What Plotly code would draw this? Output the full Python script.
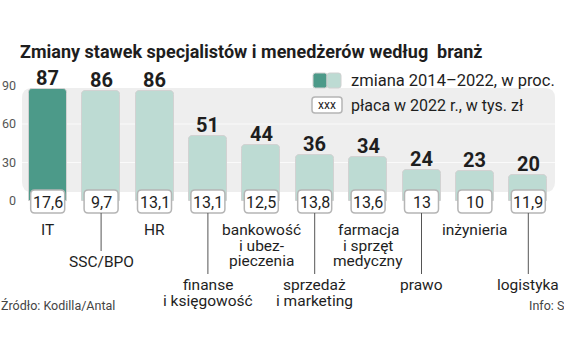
import plotly.graph_objects as go

# ---------------- data ----------------
categories = ["IT", "SSC/BPO", "HR", "finanse\ni księgowość", "bankowość\ni ubez-\npieczenia",
              "sprzedaż\ni marketing", "farmacja\ni sprzęt\nmedyczny", "prawo", "inżynieria", "logistyka"]
change_pct = [87, 86, 86, 51, 44, 36, 34, 24, 23, 20]
salary_k = ["17,6", "9,7", "13,1", "13,1", "12,5", "13,8", "13,6", "13", "10", "11,9"]
highlight = ["IT"]
y_ticks = [0, 30, 60, 90]
title = "Zmiany stawek specjalistów i menedżerów według  branż"
legend_change = "zmiana 2014–2022, w proc."
legend_salary = "płaca w 2022 r., w tys. zł"
source = "Źródło: Kodilla/Antal"
info = "Info: S"

# ---------------- style ----------------
label_row = [0, 1, 0, 2, 0, 2, 0, 2, 0, 2]   # 0 = directly under box, 1/2 = dropped with leader line
DARK = "#4c9a89"
LIGHT = "#bddbd3"
PANEL = "#eeeeee"
TXT = "#1e1e1e"
REG = "Roboto, 'Liberation Sans', sans-serif"
BOLD = "Roboto, 'Liberation Sans', sans-serif"

W, H = 564, 353
L, R, T, B = 21, 9, 60, 23
n = len(categories)
pw = W - L - R
ph = H - T - B
colw = pw / n
Y0, S = 201.0, 38.5 / 30.0


def yd(p):
    return (Y0 - p) / S


def xd(p):
    return (p - L) / colw - 0.5


def xp(p):
    return (p - L) / pw


def yp(p):
    return (H - B - p) / ph


def rrect(x0, x1, y0, y1, r):
    rx, ry = r / colw, r / S
    return (f"M {x0+rx},{y0} L {x1-rx},{y0} Q {x1},{y0} {x1},{y0+ry} "
            f"L {x1},{y1-ry} Q {x1},{y1} {x1-rx},{y1} L {x0+rx},{y1} "
            f"Q {x0},{y1} {x0},{y1-ry} L {x0},{y0+ry} Q {x0},{y0} {x0+rx},{y0} Z")


xs = list(range(n))
colors = [DARK if c in highlight else LIGHT for c in categories]

fig = go.Figure()
fig.add_trace(go.Bar(
    x=xs, y=change_pct, width=38 / colw,
    marker=dict(color=colors, cornerradius=4, line=dict(color="#d2d2d2", width=1)),
    hoverinfo="skip", showlegend=False))

shapes = []
annotations = []

# background panel
shapes.append(dict(type="path", xref="x", yref="y", layer="below",
                   path=rrect(xd(22), xd(555), yd(192), yd(88), 10),
                   fillcolor=PANEL, line=dict(width=0)))
for g in y_ticks[1:-1]:
    shapes.append(dict(type="line", xref="x", yref="y", layer="below",
                       x0=xd(22), x1=xd(555), y0=g, y1=g,
                       line=dict(color="#fafafa", width=1)))

hw = 17 / colw
for i, (cat, v, sal) in enumerate(zip(categories, change_pct, salary_k)):
    # value label
    annotations.append(dict(x=i, y=v, xref="x", yref="y", text=f"<b>{v}</b>",
                            showarrow=False, yanchor="middle", yshift=11,
                            font=dict(family=BOLD, size=20, color=TXT)))
    # salary box
    shapes.append(dict(type="path", xref="x", yref="y", layer="above",
                       path=rrect(i - hw, i + hw, yd(213), yd(190), 4),
                       fillcolor="white", line=dict(color="#b5b5b5", width=1.5)))
    annotations.append(dict(x=i, y=yd(202), xref="x", yref="y", text=sal,
                            showarrow=False, font=dict(family=REG, size=16, color=TXT)))
    # category label
    lines = cat.split("\n")
    row = label_row[i]
    first = {0: 230, 1: 262, 2: 285}[row]
    if row:
        shapes.append(dict(type="line", xref="x", yref="y", layer="above",
                           x0=i, x1=i, y0=yd(213), y1=yd(first - 11),
                           line=dict(color="#555555", width=1)))
    for k, ln in enumerate(lines):
        annotations.append(dict(x=i, y=yd(first + 15.5 * k), xref="x", yref="y", text=ln,
                                showarrow=False, font=dict(family=REG, size=15.5, color=TXT)))

# title
annotations.append(dict(x=xp(18), y=yp(52), xref="paper", yref="paper",
                        xanchor="left", yanchor="middle",
                        text=f"<b>{title}</b>", showarrow=False,
                        font=dict(family=BOLD, size=18, color=TXT)))
# legend
shapes.append(dict(type="path", xref="x", yref="y", path=rrect(xd(313), xd(327), yd(88), yd(73), 2.5),
                   fillcolor=DARK, line=dict(color="#d0d0d0", width=1)))
shapes.append(dict(type="path", xref="x", yref="y", path=rrect(xd(327), xd(341), yd(88), yd(73), 2.5),
                   fillcolor=LIGHT, line=dict(color="#d0d0d0", width=1)))
annotations.append(dict(x=xd(349), y=yd(80), xref="x", yref="y", xanchor="left",
                        text=legend_change, showarrow=False,
                        font=dict(family=REG, size=16.5, color=TXT)))
shapes.append(dict(type="path", xref="x", yref="y", path=rrect(xd(312), xd(342), yd(113), yd(97), 3),
                   fillcolor="white", line=dict(color="#b5b5b5", width=1.5)))
annotations.append(dict(x=xd(327), y=yd(105), xref="x", yref="y", text="xxx",
                        showarrow=False, font=dict(family=REG, size=12, color=TXT)))
annotations.append(dict(x=xd(349), y=yd(105), xref="x", yref="y", xanchor="left",
                        text=legend_salary, showarrow=False,
                        font=dict(family=REG, size=16, color=TXT)))
# footer
annotations.append(dict(x=xp(-1), y=yp(305), xref="paper", yref="paper",
                        xanchor="left", yanchor="middle",
                        text=source, showarrow=False, font=dict(family=REG, size=12.5, color="#444")))
annotations.append(dict(x=xp(527), y=yp(305), xref="paper", yref="paper",
                        xanchor="left", yanchor="middle",
                        text=info, showarrow=False, font=dict(family=REG, size=12.5, color="#444")))

fig.update_layout(
    width=W, height=H, margin=dict(l=L, r=R, t=T, b=B, autoexpand=False),
    paper_bgcolor="white", plot_bgcolor="rgba(0,0,0,0)",
    shapes=shapes, annotations=annotations, bargap=0,
    xaxis=dict(range=[-0.5, n - 0.5], visible=False, fixedrange=True, automargin=False),
    yaxis=dict(range=[yd(H - B), yd(T)], tickvals=y_ticks, showgrid=False, zeroline=False,
               showline=False, ticks="", ticklabelstandoff=4, automargin=False,
               tickfont=dict(family=REG, size=12.5, color="#555")),
    showlegend=False,
)
fig.write_html("out.html")
